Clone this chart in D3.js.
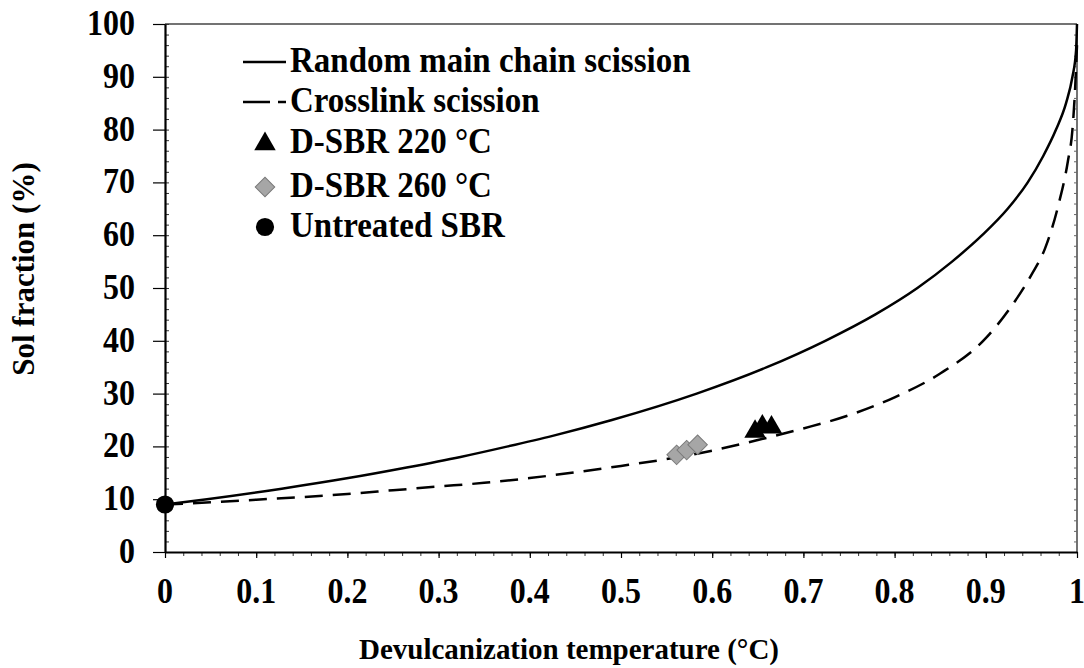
<!DOCTYPE html>
<html lang="en">
<head>
<meta charset="utf-8">
<title>sol fraction vs devulcanization</title>
<script src="https://d3js.org/d3.v7.min.js"></script>
<style>
body{margin:0;background:#fff;}
svg text{font-family:"Liberation Serif","Times New Roman",serif;font-weight:bold;fill:#000;}
</style>
</head>
<body>
<div id="chart"></div>
<script>
// tick values and labels
var xTicks = [0,0.1,0.2,0.3,0.4,0.5,0.6,0.7,0.8,0.9,1]
var xTickLabels = ["0","0.1","0.2","0.3","0.4","0.5","0.6","0.7","0.8","0.9","1"]
var yTicks = [0,10,20,30,40,50,60,70,80,90,100]
var yTickLabels = ["0","10","20","30","40","50","60","70","80","90","100"]

// random main chain scission (solid)
var randomX = [0,0.046,0.128,0.201,0.265,0.324,0.376,0.425,0.49,0.583,0.66,0.724,0.779,0.825,0.863,0.896,0.924,0.946,0.963,0.977,0.988,0.995,0.999,1]
var randomY = [9,10,12,14,16,18,20,22,25,30,35,40,45,50,55,60,65,70,75,80,85,90,95,100]

// crosslink scission (dashed)
var crossX = [0,0.05,0.1,0.15,0.2,0.25,0.3,0.35,0.4,0.45,0.5,0.55,0.6,0.65,0.7,0.75,0.8,0.85,0.9,0.925,0.95,0.965,0.98,0.99,0.995,0.998,1]
var crossY = [9,9.4,9.9,10.4,11,11.7,12.4,13.1,14,15.1,16.3,17.6,19.2,21.2,23.4,25.9,29.3,33.8,40.5,45.8,52.5,57.5,66,74,80,88,96]

// measured points
var d220X = [0.647,0.655,0.665]
var d220Y = [22.8,23.8,23.6]
var d260X = [0.561,0.572,0.584]
var d260Y = [18.4,19.3,20.3]
var untreatedX = [0]
var untreatedY = [9]

var legendLabels = ["Random main chain scission","Crosslink scission","D-SBR 220 \u00B0C","D-SBR 260 \u00B0C","Untreated SBR"]

var w = 1084
var h = 668
var pl = 165, pr = 1077, pt = 24, pb = 552

var xScale = d3.scaleLinear().domain([0,1]).range([pl,pr])
var yScale = d3.scaleLinear().domain([0,100]).range([pb,pt])

var svg = d3.select("#chart")
    .append("svg")
    .attr("width",w)
    .attr("height",h)

// frame top and right
svg.append("line").attr("x1",pl).attr("x2",pr).attr("y1",pt).attr("y2",pt)
    .attr("stroke","#444").attr("stroke-width",1.5)
svg.append("line").attr("x1",pr).attr("x2",pr).attr("y1",pt).attr("y2",pb)
    .attr("stroke","#444").attr("stroke-width",1.5)

// minor ticks
var xMinor = d3.range(0,51).map(function(i){return i/50})
var yMinor = d3.range(0,51).map(function(i){return i*2})

svg.append("g")
    .attr("transform","translate(0,"+pb+")")
    .call(d3.axisBottom(xScale).tickValues(xMinor).tickSize(4).tickFormat(""))
    .call(function(g){g.select(".domain").remove()})
    .selectAll("line").attr("stroke","#333")

svg.append("g")
    .attr("transform","translate("+pl+",0)")
    .call(d3.axisRight(yScale).tickValues(yMinor).tickSize(4).tickFormat(""))
    .call(function(g){g.select(".domain").remove()})
    .selectAll("line").attr("stroke","#333")

svg.append("g")
    .attr("transform","translate("+pr+",0)")
    .call(d3.axisLeft(yScale).tickValues(yMinor).tickSize(3).tickFormat(""))
    .call(function(g){g.select(".domain").remove()})
    .selectAll("line").attr("stroke","#666")

// major axes
var xAxis = svg.append("g")
    .attr("transform","translate(0,"+pb+")")
    .call(d3.axisBottom(xScale).tickValues(xTicks).tickSize(6).tickSizeOuter(0).tickFormat(""))
xAxis.select(".domain").attr("stroke","#000").attr("stroke-width",2.2)
xAxis.selectAll("line").attr("stroke","#000").attr("stroke-width",1.2)

var yAxis = svg.append("g")
    .attr("transform","translate("+pl+",0)")
    .call(d3.axisLeft(yScale).tickValues(yTicks).tickSize(12).tickSizeOuter(0).tickFormat(""))
yAxis.select(".domain").attr("stroke","#000").attr("stroke-width",2.2)
yAxis.selectAll("line").attr("stroke","#000").attr("stroke-width",1.2)

// tick labels (slightly stretched vertically like the scan)
svg.selectAll(".xlab")
    .data(xTicks)
    .enter()
    .append("text")
    .attr("class","xlab")
    .attr("transform",function(d){return "translate("+xScale(d)+",603) scale(1,1.12)"})
    .attr("text-anchor","middle")
    .style("font-size","32px")
    .text(function(d,i){return xTickLabels[i]})

svg.selectAll(".ylab")
    .data(yTicks)
    .enter()
    .append("text")
    .attr("class","ylab")
    .attr("transform",function(d){return "translate(135,"+(yScale(d)+11)+") scale(1,1.12)"})
    .attr("text-anchor","end")
    .style("font-size","32px")
    .text(function(d,i){return yTickLabels[i]})

// axis titles
svg.append("text")
    .attr("transform","translate(569,659) scale(1,1.05)")
    .attr("text-anchor","middle")
    .style("font-size","29px")
    .text("Devulcanization temperature (\u00B0C)")

svg.append("text")
    .attr("transform","translate(34,269) rotate(-90)")
    .attr("text-anchor","middle")
    .style("font-size","31px")
    .text("Sol fraction (%)")

// curves
var line = d3.line()
    .x(function(d){return xScale(d[0])})
    .y(function(d){return yScale(d[1])})
    .curve(d3.curveMonotoneX)

svg.append("path")
    .datum(randomX.map(function(d,i){return [d,randomY[i]]}))
    .attr("d",line)
    .attr("fill","none")
    .attr("stroke","#000")
    .attr("stroke-width",2.5)

svg.append("path")
    .datum(crossX.map(function(d,i){return [d,crossY[i]]}))
    .attr("d",line)
    .attr("fill","none")
    .attr("stroke","#000")
    .attr("stroke-width",2.5)
    .attr("stroke-dasharray","18,10")

// markers
var tri = d3.symbol().type(d3.symbolTriangle).size(200)
var dia = d3.symbol().type(d3.symbolSquare).size(190)
var dot = d3.symbol().type(d3.symbolCircle).size(260)

svg.selectAll(".d260")
    .data(d260X)
    .enter()
    .append("path")
    .attr("class","d260")
    .attr("d",dia)
    .attr("transform",function(d,i){return "translate("+xScale(d)+","+yScale(d260Y[i])+") rotate(45)"})
    .attr("fill","#a6a6a6")
    .attr("stroke","#7a7a7a")
    .attr("stroke-width",1)

svg.selectAll(".d220")
    .data(d220X)
    .enter()
    .append("path")
    .attr("class","d220")
    .attr("d",tri)
    .attr("transform",function(d,i){return "translate("+xScale(d)+","+yScale(d220Y[i])+")"})
    .attr("fill","#000")

svg.selectAll(".untreated")
    .data(untreatedX)
    .enter()
    .append("path")
    .attr("class","untreated")
    .attr("d",dot)
    .attr("transform",function(d,i){return "translate("+xScale(d)+","+yScale(untreatedY[i])+")"})
    .attr("fill","#000")

// legend
var legY = [62,102,143,187,227]
var leg = svg.append("g")

leg.append("line").attr("x1",243).attr("x2",286).attr("y1",legY[0]).attr("y2",legY[0])
    .attr("stroke","#000").attr("stroke-width",2.5)
leg.append("line").attr("x1",243).attr("x2",286).attr("y1",legY[1]).attr("y2",legY[1])
    .attr("stroke","#000").attr("stroke-width",2.5).attr("stroke-dasharray","27,8,8")
leg.append("path").attr("d",tri).attr("transform","translate(265,"+(legY[2]+1)+")").attr("fill","#000")
leg.append("path").attr("d",dia).attr("transform","translate(265,"+legY[3]+") rotate(45)")
    .attr("fill","#a6a6a6").attr("stroke","#7a7a7a")
leg.append("path").attr("d",dot).attr("transform","translate(265,"+legY[4]+")").attr("fill","#000")

leg.selectAll("text")
    .data(legendLabels)
    .enter()
    .append("text")
    .attr("transform",function(d,i){return "translate(290,"+(legY[i]+10)+") scale(1,1.1)"})
    .style("font-size","33px")
    .text(function(d){return d})
</script>
</body>
</html>
